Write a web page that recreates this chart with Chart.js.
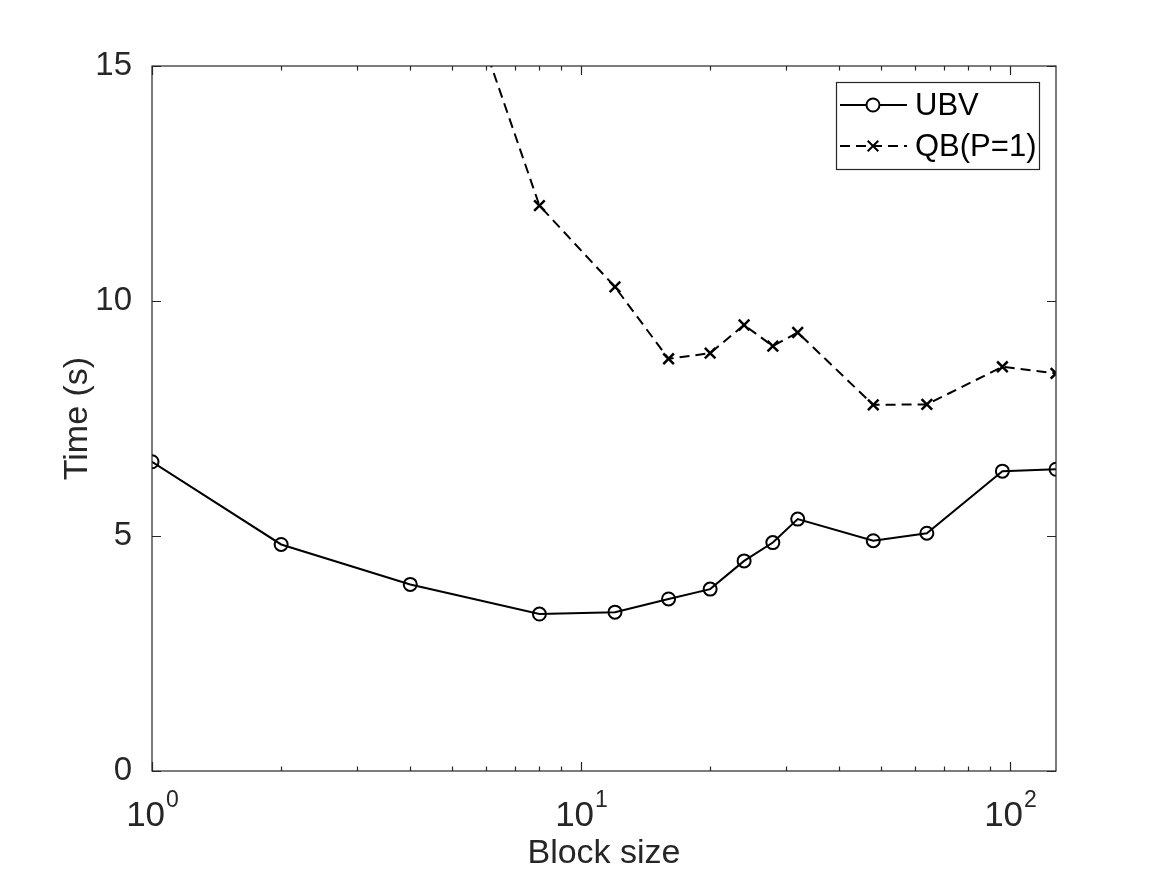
<!DOCTYPE html>
<html lang="en">

<head>
  <meta charset="UTF-8" />
  <title>Block size vs time</title>
  <script src="https://cdn.jsdelivr.net/npm/chart.js"></script>
  <style>
    body {
      margin: 0;
      background: #fff;
    }

    #wrap {
      width: 1167px;
      height: 875px;
    }
  </style>
</head>

<body>
  <div id="wrap">
    <canvas id="timeChart" width="1167" height="875"></canvas>
  </div>

  <script>
    // values
    const blockSizes = [1, 2, 4, 8, 12, 16, 20, 24, 28, 32, 48, 64, 96, 128];
    const ubvTimes = [6.58, 4.82, 3.97, 3.34, 3.38, 3.66, 3.87, 4.47, 4.86, 5.36, 4.90, 5.06, 6.38, 6.42];
    // first two points lie far above the top of the plot and cannot be read
    const qbTimes = [null, null, 20.0, 12.03, 10.30, 8.77, 8.89, 9.49, 9.04, 9.33, 7.79, 7.80, 8.60, 8.46];
    const seriesNames = ['UBV', 'QB(P=1)'];
    const yTicks = [0, 5, 10, 15];
    const xDecades = [1, 10, 100];

    const FONT = '"Liberation Sans", Arial, Helvetica, sans-serif';
    const AXIS_COLOR = '#262626';

    function toPoints(values) {
      return blockSizes.map((b, i) => ({ x: b, y: values[i] }));
    }

    // MATLAB style box, inward ticks, 10^n labels and legend
    const matlabAxes = {
      id: 'matlabAxes',
      afterDraw(chart) {
        const ctx = chart.ctx;
        const area = chart.chartArea;
        const xs = chart.scales.x;
        const ys = chart.scales.y;

        ctx.save();
        ctx.strokeStyle = AXIS_COLOR;
        ctx.lineWidth = 1.2;
        ctx.strokeRect(area.left, area.top, area.right - area.left, area.bottom - area.top);

        ctx.beginPath();
        // x ticks, bottom and top
        for (let e = 0; e <= 2; e++) {
          for (let s = 1; s <= 9; s++) {
            const v = s * Math.pow(10, e);
            if (v < xs.min || v > xs.max) continue;
            const px = Math.round(xs.getPixelForValue(v)) + 0.5;
            const len = s === 1 ? 9 : 4.5;
            ctx.moveTo(px, area.bottom);
            ctx.lineTo(px, area.bottom - len);
            ctx.moveTo(px, area.top);
            ctx.lineTo(px, area.top + len);
          }
        }
        // y ticks, left and right
        yTicks.forEach(v => {
          const py = Math.round(ys.getPixelForValue(v)) + 0.5;
          ctx.moveTo(area.left, py);
          ctx.lineTo(area.left + 9, py);
          ctx.moveTo(area.right, py);
          ctx.lineTo(area.right - 9, py);
        });
        ctx.stroke();

        // x tick labels as 10 with superscript exponent
        ctx.fillStyle = AXIS_COLOR;
        ctx.textBaseline = 'alphabetic';
        ctx.textAlign = 'left';
        xDecades.forEach(v => {
          const px = xs.getPixelForValue(v);
          const exp = String(Math.round(Math.log10(v)));
          ctx.font = '35px ' + FONT;
          const wb = ctx.measureText('10').width;
          ctx.font = '23px ' + FONT;
          const ws = ctx.measureText(exp).width;
          const start = px - (wb + ws) / 2;
          ctx.font = '35px ' + FONT;
          ctx.fillText('10', start, 826);
          ctx.font = '23px ' + FONT;
          ctx.fillText(exp, start + wb + 1, 807);
        });

        // legend
        const bx = area.right - 220;
        const by = area.top + 16;
        const bw = 203;
        const bh = 87;
        ctx.fillStyle = '#fff';
        ctx.fillRect(bx, by, bw, bh);
        ctx.strokeStyle = AXIS_COLOR;
        ctx.lineWidth = 1.2;
        ctx.strokeRect(bx + 0.5, by + 0.5, bw, bh);

        chart.data.datasets.forEach((ds, i) => {
          const cy = by + 23 + i * 41;
          ctx.strokeStyle = ds.borderColor;
          ctx.lineWidth = ds.borderWidth;
          ctx.setLineDash(ds.borderDash || []);
          ctx.beginPath();
          ctx.moveTo(bx + 4, cy);
          ctx.lineTo(bx + 71, cy);
          ctx.stroke();
          ctx.setLineDash([]);

          const mx = bx + 37;
          ctx.beginPath();
          if (ds.pointStyle === 'circle') {
            ctx.fillStyle = '#fff';
            ctx.arc(mx, cy, ds.pointRadius, 0, Math.PI * 2);
            ctx.fill();
          } else {
            const r = ds.pointRadius * Math.SQRT1_2;
            ctx.moveTo(mx - r, cy - r);
            ctx.lineTo(mx + r, cy + r);
            ctx.moveTo(mx + r, cy - r);
            ctx.lineTo(mx - r, cy + r);
          }
          ctx.stroke();

          ctx.fillStyle = '#000';
          ctx.font = '31px ' + FONT;
          ctx.textBaseline = 'middle';
          ctx.fillText(ds.label, bx + 79, cy + 1);
        });
        ctx.restore();
      }
    };

    const ctxChart = document.getElementById('timeChart');

    new Chart(ctxChart, {
      type: 'line',
      data: {
        datasets: [{
          label: seriesNames[0],
          data: toPoints(ubvTimes),
          borderColor: '#000',
          borderWidth: 2,
          pointStyle: 'circle',
          pointRadius: 6.5,
          pointBorderWidth: 2,
          pointBackgroundColor: 'transparent',
          pointBorderColor: '#000',
          tension: 0,
          fill: false,
        }, {
          label: seriesNames[1],
          data: toPoints(qbTimes),
          borderColor: '#000',
          borderWidth: 2,
          borderDash: [10, 6],
          pointStyle: 'crossRot',
          pointRadius: 7.5,
          pointBorderWidth: 2.5,
          pointBorderColor: '#000',
          tension: 0,
          fill: false,
        }],
      },
      options: {
        responsive: false,
        animation: false,
        devicePixelRatio: 1,
        layout: {
          padding: { top: 66, right: 111, left: 0, bottom: 0 }
        },
        plugins: {
          legend: { display: false },
          tooltip: { enabled: false },
        },
        scales: {
          x: {
            type: 'logarithmic',
            min: 1,
            max: 128,
            grid: { display: false },
            border: { display: false },
            ticks: { display: false },
            title: {
              display: true,
              text: 'Block size',
              color: AXIS_COLOR,
              font: { family: FONT, size: 34 },
              padding: { top: 0, bottom: 1 },
            },
            afterFit: s => { s.height = 104; },
          },
          y: {
            min: 0,
            max: 15,
            grid: { display: false },
            border: { display: false },
            afterBuildTicks: s => { s.ticks = yTicks.map(v => ({ value: v })); },
            ticks: {
              color: AXIS_COLOR,
              padding: 12,
              font: { family: FONT, size: 33 },
            },
            title: {
              display: true,
              text: 'Time (s)',
              color: AXIS_COLOR,
              font: { family: FONT, size: 34 },
              padding: { top: 57, bottom: 0 },
            },
            afterFit: s => { s.width = 152; },
          },
        },
      },
      plugins: [matlabAxes],
    });
  </script>
</body>

</html>
